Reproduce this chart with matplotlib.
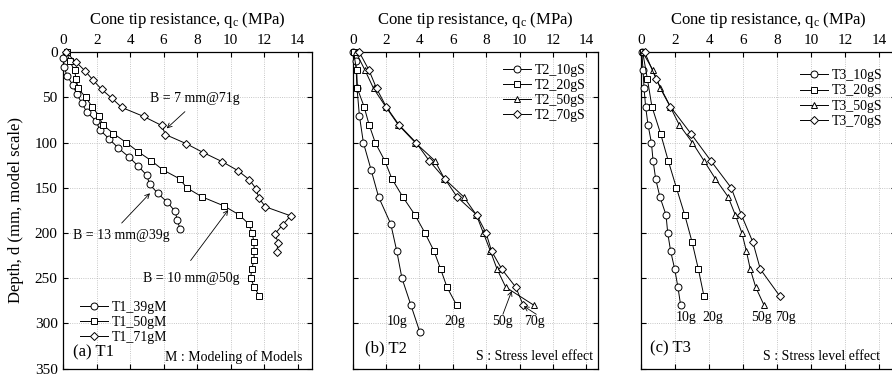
import matplotlib.pyplot as plt

plt.rcParams['font.family'] = ['Liberation Serif', 'DejaVu Serif']
plt.rcParams['mathtext.fontset'] = 'custom'
plt.rcParams['mathtext.rm'] = 'Liberation Serif'
plt.rcParams['mathtext.it'] = 'Liberation Serif:italic'

# (a) T1 : modeling of models
t1_39_depth = [6, 16, 26, 36, 46, 56, 66, 76, 86, 96, 106, 116, 126, 136, 146, 156, 166, 176, 186, 196]
t1_39_qc = [0.0, 0.05, 0.22, 0.56, 0.8, 1.1, 1.4, 1.95, 2.19, 2.75, 3.29, 3.93, 4.48, 4.98, 5.16,
            5.64, 6.22, 6.68, 6.82, 6.98]
t1_50_depth = [0, 10, 20, 30, 40, 50, 60, 70, 80, 90, 100, 110, 120, 130, 140, 150, 160, 170, 180,
               190, 200, 210, 220, 230, 240, 250, 260, 270]
t1_50_qc = [0.2, 0.38, 0.68, 0.76, 0.9, 1.34, 1.72, 2.11, 2.35, 3.0, 3.77, 4.47, 5.26, 5.94, 6.95,
            7.38, 8.29, 9.6, 10.52, 11.08, 11.28, 11.4, 11.4, 11.4, 11.26, 11.2, 11.42, 11.72]
t1_71_depth = [0, 11, 21, 31, 41, 51, 61, 71, 81, 91, 101, 111, 121, 131, 141, 151, 161, 171, 181,
               191, 201, 211, 221]
t1_71_qc = [0.16, 0.78, 1.32, 1.79, 2.29, 2.91, 3.49, 4.80, 5.88, 6.10, 7.33, 8.37, 9.49, 10.44,
            11.12, 11.52, 11.68, 12.08, 13.59, 13.11, 12.65, 12.85, 12.75]

# (b) T2 : stress level effect
t2_10_depth = [0, 10, 40, 70, 100, 130, 160, 190, 220, 250, 280, 310]
t2_10_qc = [0.0, 0.18, 0.26, 0.4, 0.64, 1.1, 1.55, 2.28, 2.64, 2.95, 3.49, 4.03]
t2_depth = [0, 20, 40, 60, 80, 100, 120, 140, 160, 180, 200, 220, 240, 260, 280]
t2_20_qc = [0.05, 0.24, 0.28, 0.68, 0.98, 1.35, 1.92, 2.35, 3.0, 3.73, 4.33, 4.87, 5.27, 5.65, 6.23]
t2_50_qc = [0.2, 0.74, 1.25, 1.97, 2.72, 3.75, 4.92, 5.5, 6.65, 7.41, 7.83, 8.25, 8.65, 9.17, 10.86]
t2_70_qc = [0.4, 0.98, 1.43, 2.0, 2.76, 3.8, 4.58, 5.52, 6.25, 7.43, 7.99, 8.32, 8.93, 9.77, 10.22]

# (c) T3 : stress level effect
t3_20step_depth = [0, 20, 40, 60, 80, 100, 120, 140, 160, 180, 200, 220, 240, 260, 280]
t3_30step_depth = [0, 30, 60, 90, 120, 150, 180, 210, 240, 270]
t3_10_qc = [0.05, 0.12, 0.18, 0.27, 0.41, 0.61, 0.71, 0.86, 1.11, 1.47, 1.57, 1.74, 1.98, 2.17, 2.33]
t3_20_qc = [0.1, 0.38, 0.64, 1.15, 1.6, 2.08, 2.57, 3.0, 3.37, 3.7]
t3_50_qc = [0.1, 0.71, 1.14, 1.71, 2.24, 3.02, 3.7, 4.37, 5.12, 5.54, 5.93, 6.19, 6.42, 6.74, 7.23]
t3_70_qc = [0.22, 0.9, 1.72, 2.93, 4.1, 5.3, 5.9, 6.57, 7.01, 8.16]

x_ticks = [0, 2, 4, 6, 8, 10, 12, 14]
y_ticks = [0, 50, 100, 150, 200, 250, 300, 350]

W, H = 892, 376


def series(ax, qc, depth, marker, label, ms=5):
    ax.plot(qc, depth, color='black', lw=0.7, marker=marker, ms=ms,
            mfc='white', mec='black', mew=0.7, label=label, clip_on=False, zorder=3)


def style_axes(ax, xmax, ylabels):
    ax.set_xlim(0, xmax)
    ax.set_ylim(350, 0)
    ax.set_xticks(x_ticks)
    ax.set_yticks(y_ticks)
    ax.xaxis.tick_top()
    ax.xaxis.set_label_position('top')
    ax.tick_params(direction='in', top=True, bottom=True, left=True, right=True,
                   length=3.5, width=0.8, labelsize=11, pad=4)
    ax.tick_params(axis='x', labeltop=True, labelbottom=False)
    if not ylabels:
        ax.tick_params(axis='y', labelleft=False)
    ax.grid(True, color='#b5b5b5', linestyle=':', lw=0.6)
    ax.set_axisbelow(True)
    for sp in ax.spines.values():
        sp.set_linewidth(0.9)
    ax.set_xlabel(r'Cone tip resistance, q$_\mathrm{c}$ (MPa)', fontsize=12, labelpad=7)


def arrow(ax, tail, tip):
    ax.annotate('', xy=tip, xytext=tail,
                arrowprops=dict(arrowstyle='->', lw=0.6, color='black', mutation_scale=8,
                                shrinkA=0, shrinkB=0))


fig = plt.figure(figsize=(W / 100, H / 100), dpi=100)
bottom = (H - 368.5) / H
height = 316.2 / H
ax1 = fig.add_axes([63.3 / W, bottom, 249.0 / W, height])
ax2 = fig.add_axes([352.7 / W, bottom, 245.6 / W, height])
ax3 = fig.add_axes([641.0 / W, bottom, 255.3 / W, height])

# panel (a)
series(ax1, t1_39_qc, t1_39_depth, 'o', 'T1_39gM')
series(ax1, t1_50_qc, t1_50_depth, 's', 'T1_50gM', ms=4.5)
series(ax1, t1_71_qc, t1_71_depth, 'D', 'T1_71gM', ms=4.2)
style_axes(ax1, 249.0 / 16.73, True)
ax1.set_ylabel('Depth, d (mm, model scale)', fontsize=12, labelpad=8)
ax1.legend(loc='center left', bbox_to_anchor=(0.067, 0.145), frameon=False, fontsize=10,
           borderpad=0, borderaxespad=0, handlelength=2.0, handletextpad=0.3, labelspacing=0.15)
ax1.text(7.84, 51, 'B = 7 mm@71g', fontsize=10, ha='center', va='center')
arrow(ax1, (7.27, 65.7), (6.18, 84.2))
ax1.text(3.44, 203, 'B = 13 mm@39g', fontsize=10, ha='center', va='center')
arrow(ax1, (3.49, 189), (5.18, 156))
ax1.text(7.62, 250, 'B = 10 mm@50g', fontsize=10, ha='center', va='center')
arrow(ax1, (7.61, 230.5), (9.86, 174.5))
ax1.text(0.6, 332, '(a) T1', fontsize=12, ha='left', va='center')
ax1.text(14.3, 337, 'M : Modeling of Models', fontsize=10, ha='right', va='center')

# panel (b)
series(ax2, t2_10_qc, t2_10_depth, 'o', 'T2_10gS')
series(ax2, t2_20_qc, t2_depth, 's', 'T2_20gS', ms=4.5)
series(ax2, t2_50_qc, t2_depth, '^', 'T2_50gS')
series(ax2, t2_70_qc, t2_depth, 'D', 'T2_70gS', ms=4.2)
style_axes(ax2, 245.6 / 16.69, False)
ax2.legend(loc='center left', bbox_to_anchor=(0.612, 0.871), frameon=False, fontsize=10,
           borderpad=0, borderaxespad=0, handlelength=2.0, handletextpad=0.3, labelspacing=0.15)
for lab, xpos in zip(['10g', '20g', '50g', '70g'], [2.64, 6.13, 8.98, 10.87]):
    ax2.text(xpos, 298.5, lab, fontsize=10, ha='center', va='center')
arrow(ax2, (9.0, 290), (9.53, 264))
arrow(ax2, (11.0, 290), (10.25, 281))
ax2.text(0.74, 328, '(b) T2', fontsize=12, ha='left', va='center')
ax2.text(14.42, 337, 'S : Stress level effect', fontsize=10, ha='right', va='center')

# panel (c)
series(ax3, t3_10_qc, t3_20step_depth, 'o', 'T3_10gS')
series(ax3, t3_20_qc, t3_30step_depth, 's', 'T3_20gS', ms=4.5)
series(ax3, t3_50_qc, t3_20step_depth, '^', 'T3_50gS')
series(ax3, t3_70_qc, t3_30step_depth, 'D', 'T3_70gS', ms=4.2)
style_axes(ax3, 15, False)
ax3.legend(loc='center left', bbox_to_anchor=(0.623, 0.854), frameon=False, fontsize=10,
           borderpad=0, borderaxespad=0, handlelength=2.0, handletextpad=0.3, labelspacing=0.15)
for lab, xpos in zip(['10g', '20g', '50g', '70g'], [2.63, 4.23, 7.09, 8.51]):
    ax3.text(xpos, 293, lab, fontsize=10, ha='center', va='center')
ax3.text(0.53, 328, '(c) T3', fontsize=12, ha='left', va='center')
ax3.text(14.04, 337, 'S : Stress level effect', fontsize=10, ha='right', va='center')

fig.savefig('out.png', dpi=100)
